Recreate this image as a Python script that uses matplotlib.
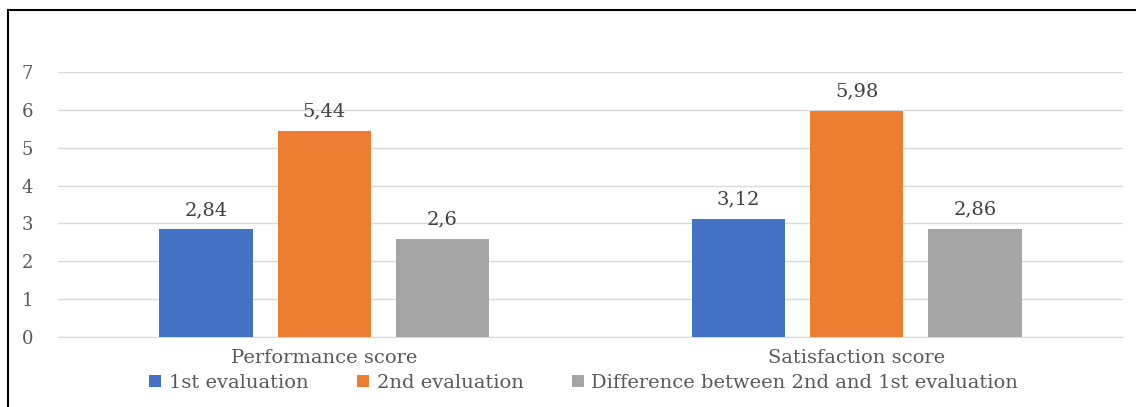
import matplotlib
matplotlib.use("Agg")
import matplotlib.pyplot as plt
import numpy as np
from matplotlib.lines import Line2D

categories = ["Performance score", "Satisfaction score"]
series_names = ["1st evaluation", "2nd evaluation", "Difference between 2nd and 1st evaluation"]
first_eval = [2.84, 3.12]
second_eval = [5.44, 5.98]
difference = [2.6, 2.86]
colors = ["#4472C4", "#ED7D31", "#A5A5A5"]

plt.rcParams["font.family"] = ["DejaVu Serif"]

fig = plt.figure(figsize=(11.36, 4.07), dpi=100)
ax = fig.add_axes([0.051, 0.172, 0.9376, 0.651])

x = np.arange(len(categories))
width = 0.175
step = 0.222
for i, (vals, name) in enumerate(zip([first_eval, second_eval, difference], series_names)):
    bars = ax.bar(x + (i - 1) * step, vals, width, color=colors[i], label=name, zorder=3)
    for b, v in zip(bars, vals):
        ax.text(b.get_x() + b.get_width() / 2, v + 0.28, f"{v:g}".replace(".", ","),
                ha="center", va="bottom", fontsize=14, color="#404040")

ax.set_xlim(-0.5, 1.5)
ax.set_ylim(0, 7)
ax.set_yticks(range(0, 8))
ax.set_xticks(x)
ax.set_xticklabels(categories, fontsize=14, color="#595959")
ax.tick_params(axis="y", labelsize=13, labelcolor="#595959", length=0, pad=18)
ax.tick_params(axis="x", length=0, pad=9)
ax.yaxis.grid(True, color="#D9D9D9", linewidth=1, zorder=0)
for s in ["top", "right", "left"]:
    ax.spines[s].set_visible(False)
ax.spines["bottom"].set_color("#D9D9D9")

fig.legend(loc="center", bbox_to_anchor=(0.514, 0.06), ncol=3, frameon=False,
           fontsize=14, labelcolor="#595959", handlelength=0.6, handleheight=0.6,
           handletextpad=0.4, columnspacing=2.5)

fig.add_artist(Line2D([0.007, 1.0], [0.975, 0.975], color="black", linewidth=1.5, transform=fig.transFigure))
fig.add_artist(Line2D([0.007, 0.007], [0.0, 0.975], color="black", linewidth=1.5, transform=fig.transFigure))

fig.savefig("out.png", dpi=100)
